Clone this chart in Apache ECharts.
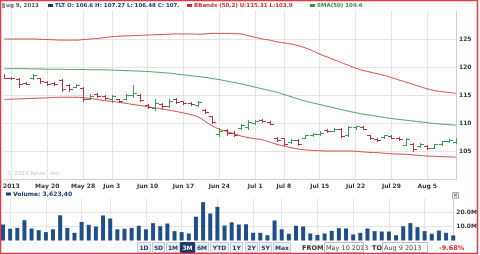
<!DOCTYPE html>
<html><head><meta charset="utf-8">
<script src="https://cdn.jsdelivr.net/npm/echarts@6/dist/echarts.min.js"></script>
<style>html,body{margin:0;padding:0;background:#fff}#c{width:480px;height:255px}</style>
</head><body><div id="c"></div><script>
// ---- data ----
const dates = ['May 10','May 13','May 14','May 15','May 16','May 17','May 20','May 21','May 22','May 23','May 24','May 28','May 29','May 30','May 31',
 'Jun 3','Jun 4','Jun 5','Jun 6','Jun 7','Jun 10','Jun 11','Jun 12','Jun 13','Jun 14','Jun 17','Jun 18','Jun 19','Jun 20','Jun 21','Jun 24','Jun 25','Jun 26','Jun 27','Jun 28',
 'Jul 1','Jul 2','Jul 3','Jul 5','Jul 8','Jul 9','Jul 10','Jul 11','Jul 12','Jul 15','Jul 16','Jul 17','Jul 18','Jul 19','Jul 22','Jul 23','Jul 24','Jul 25','Jul 26','Jul 29','Jul 30','Jul 31',
 'Aug 1','Aug 2','Aug 5','Aug 6','Aug 7','Aug 8','Aug 9'];
const opens  = [118.6,118.1,117.9,117.2,118.0,118.0,117.4,117.2,117.6,116.8,116.5,116.2,114.3,115.1,114.9,114.2,114.2,114.3,115.0,115.0,113.3,112.6,113.4,113.0,114.3,113.9,113.5,113.3,112.4,111.2,108.0,108.7,108.3,109.1,109.2,110.0,110.6,110.2,107.4,107.3,106.6,107.0,107.4,107.8,108.0,108.8,108.6,109.0,107.8,109.2,109.3,107.8,107.2,107.5,107.7,107.4,106.1,106.3,105.9,105.9,105.6,106.2,106.7,106.6];
const highs  = [118.8,118.2,118.0,117.3,118.8,118.1,117.5,117.3,117.9,117.0,117.0,116.4,115.1,115.3,115.05,115.0,114.3,115.2,116.8,115.1,113.4,114.2,113.5,114.3,114.4,114.0,113.8,114.0,112.5,111.3,109.1,109.0,108.5,109.9,110.6,110.6,110.7,110.3,107.5,107.3,107.1,107.2,107.9,108.2,108.5,108.9,109.1,109.1,109.4,109.5,109.4,107.9,107.3,107.9,107.8,107.5,107.4,106.5,106.5,106.0,106.3,106.8,107.1,107.27];
const lows   = [118.0,117.9,116.5,116.9,117.9,117.2,116.8,116.8,115.8,115.8,116.4,113.9,114.2,114.7,114.2,113.8,113.7,114.2,114.6,113.9,112.7,112.3,112.6,112.9,113.6,113.4,113.2,113.0,111.8,110.0,107.65,107.9,107.6,109.0,109.0,109.9,110.2,109.8,106.8,106.0,106.5,106.1,107.3,107.6,107.9,108.4,108.5,107.5,107.7,109.0,108.9,107.2,106.8,107.4,107.3,107.0,106.0,105.0,105.8,105.4,105.5,106.0,106.6,106.48];
const closes = [118.1,118.0,117.0,117.0,118.5,117.5,117.0,116.9,116.0,116.1,116.8,114.2,114.9,114.8,114.4,114.8,113.9,115.0,115.4,114.1,112.9,113.6,113.0,114.0,113.8,113.5,113.4,113.8,111.9,110.2,108.5,108.2,107.8,109.6,110.1,110.4,110.3,109.9,107.0,106.2,107.0,106.3,107.8,108.0,108.3,108.5,109.0,107.7,109.2,109.4,109.0,107.4,106.9,107.8,107.4,107.2,107.2,105.3,106.3,105.5,106.2,106.7,107.0,107.0];
const volumes = [11.4,8.4,9.0,14.5,8.6,7.4,6.0,8.0,18.0,9.0,5.5,13.3,11.2,10.0,17.9,15.7,8.0,8.4,9.0,10.5,8.0,12.4,10.2,12.1,6.7,6.0,5.0,17.0,27.4,19.3,24.0,10.7,13.0,11.4,11.6,5.5,5.5,3.8,14.3,8.0,4.8,10.5,10.0,5.0,4.0,5.0,6.9,8.8,8.6,4.3,5.5,8.6,6.7,6.4,6.4,3.8,10.2,12.4,9.5,6.7,4.8,7.1,5.5,3.62];
const bbUpper = [125.0,125.0,125.0,125.0,125.0,124.95,124.9,124.85,124.8,124.8,124.8,124.9,125.0,125.1,125.25,125.4,125.5,125.55,125.6,125.65,125.7,125.75,125.8,125.85,125.9,125.9,125.9,125.85,125.9,126.0,126.0,126.0,125.95,125.9,125.6,125.3,125.0,124.8,124.5,124.3,124.1,123.8,123.4,122.9,122.3,121.8,121.3,120.8,120.3,119.8,119.4,119.1,118.8,118.5,118.1,117.7,117.3,116.9,116.5,116.1,115.8,115.6,115.45,115.31];
const sma50 = [119.7,119.7,119.7,119.7,119.65,119.65,119.6,119.6,119.6,119.55,119.55,119.55,119.5,119.5,119.5,119.45,119.4,119.35,119.3,119.25,119.2,119.1,119.0,118.9,118.75,118.6,118.45,118.3,118.15,117.95,117.75,117.5,117.25,117.0,116.7,116.4,116.1,115.8,115.5,115.1,114.7,114.3,113.9,113.6,113.3,113.0,112.7,112.4,112.1,111.85,111.6,111.4,111.2,111.0,110.8,110.65,110.5,110.35,110.2,110.05,109.9,109.8,109.7,109.6];
const bbLower = [114.2,114.25,114.3,114.35,114.4,114.45,114.5,114.55,114.6,114.6,114.6,114.5,114.4,114.2,114.0,113.85,113.7,113.5,113.3,113.1,112.9,112.7,112.5,112.3,112.05,111.8,111.5,111.1,110.3,109.5,108.9,108.5,108.1,107.7,107.4,107.2,107.0,106.6,106.2,105.9,105.6,105.35,105.2,105.1,105.05,105.0,105.0,105.0,105.0,104.95,104.85,104.75,104.7,104.6,104.5,104.45,104.4,104.3,104.2,104.1,104.05,104.0,103.95,103.9];
const tickDates = ['May 13','May 20','May 28','Jun 3','Jun 10','Jun 17','Jun 24','Jul 1','Jul 8','Jul 15','Jul 22','Jul 29','Aug 5'];
const tickLabels = ['2013','May 20','May 28','Jun 3','Jun 10','Jun 17','Jun 24','Jul 1','Jul 8','Jul 15','Jul 22','Jul 29','Aug 5'];
const priceTicks = [105,110,115,120,125];
const volumeTicks = [10,20];
const ranges = ['1D','5D','1M','3M','6M','YTD','1Y','2Y','5Y','Max'];

// ---- styles ----
const GREEN = '#3f9a55', RED = '#a8364e', BAND = '#cf4a45', SMA = '#4a9e63', VOL = '#1f4f88';
const FONT = 'DejaVu Sans';
const GRIDC = '#e4e4e4';
const isTick = (i) => tickDates.indexOf(dates[i]) >= 0;

function renderOHLC(params, api) {
  const i = api.value(0);
  const o = api.coord([i, api.value(1)]);
  const h = api.coord([i, api.value(2)]);
  const l = api.coord([i, api.value(3)]);
  const c = api.coord([i, api.value(4)]);
  const x = Math.round(o[0]) + 0.5;
  const col = api.value(4) >= api.value(1) ? GREEN : RED;
  const st = {stroke: col, lineWidth: 1, fill: null};
  const oy = Math.round(o[1]) + 0.5, cy = Math.round(c[1]) + 0.5;
  return {type: 'group', children: [
    {type: 'line', shape: {x1: x, y1: Math.round(h[1]), x2: x, y2: Math.round(l[1]) + 1}, style: st},
    {type: 'line', shape: {x1: x - 3.5, y1: oy, x2: x, y2: oy}, style: st},
    {type: 'line', shape: {x1: x, y1: cy, x2: x + 3.5, y2: cy}, style: st}
  ]};
}

const chart = echarts.init(document.getElementById('c'), null, {renderer: 'canvas'});
const axisLab = {fontFamily: FONT, fontSize: 6, fontWeight: 'bold', color: '#333'};
const HF = 'bold 5.5px ' + FONT;

const graphics = [
  {type: 'rect', shape: {x: 0.5, y: 0.5, width: 477, height: 253}, style: {fill: null, stroke: '#e23a46', lineWidth: 1.5}, z: 100},
  // header
  {type: 'rect', shape: {x: 2, y: 3, width: 3, height: 5}, style: {fill: '#999'}},
  {type: 'text', x: 6, y: 5.5, style: {text: 'ug 9, 2013', font: HF, fill: '#555', textVerticalAlign: 'middle'}},
  {type: 'rect', shape: {x: 48, y: 4, width: 5, height: 3}, style: {fill: '#1d3c6c'}},
  {type: 'text', x: 55, y: 5.5, style: {text: 'TLT O: 106.6 H: 107.27 L: 106.48 C: 107.', font: HF, fill: '#1d3c6c', textVerticalAlign: 'middle'}},
  {type: 'rect', shape: {x: 187, y: 4, width: 5, height: 3}, style: {fill: '#c8312e'}},
  {type: 'text', x: 194, y: 5.5, style: {text: 'BBands (50,2) U:115.31 L:103.9', font: HF, fill: '#c8312e', textVerticalAlign: 'middle'}},
  {type: 'rect', shape: {x: 310, y: 4, width: 5, height: 3}, style: {fill: '#3c8d4b'}},
  {type: 'text', x: 317, y: 5.5, style: {text: 'SMA(50) 109.6', font: HF, fill: '#3c8d4b', textVerticalAlign: 'middle'}},
  // copyright
  {type: 'text', x: 7, y: 174, style: {text: '© 2013 Yahoo! Inc.', font: '5.5px ' + FONT, fill: '#c4c4c4', textVerticalAlign: 'middle'}},
  // volume header
  {type: 'rect', shape: {x: 6, y: 192.5, width: 5, height: 3}, style: {fill: '#1d3c6c'}},
  {type: 'text', x: 13, y: 194, style: {text: 'Volume: 3,623,40', font: 'bold 6px ' + FONT, fill: '#1d3c6c', textVerticalAlign: 'middle'}},
  {type: 'rect', shape: {x: 452.5, y: 192.5, width: 6, height: 6}, style: {fill: '#f2f2f2', stroke: '#aaa', lineWidth: 1}},
  {type: 'text', x: 455.5, y: 195.5, style: {text: '×', font: 'bold 6px ' + FONT, fill: '#555', textAlign: 'center', textVerticalAlign: 'middle'}},
  // FROM / TO
  {type: 'text', x: 302, y: 248, style: {text: 'FROM:', font: 'bold 6.5px ' + FONT, fill: '#333', textVerticalAlign: 'middle'}},
  {type: 'rect', shape: {x: 324.5, y: 242.5, width: 39, height: 10}, style: {fill: '#fff', stroke: '#bbb', lineWidth: 1}},
  {type: 'text', x: 326, y: 248, style: {text: 'May 10 2013', font: '6.5px ' + FONT, fill: '#444', textVerticalAlign: 'middle'}},
  {type: 'text', x: 372, y: 248, style: {text: 'TO:', font: 'bold 6.5px ' + FONT, fill: '#333', textVerticalAlign: 'middle'}},
  {type: 'rect', shape: {x: 382.5, y: 242.5, width: 45, height: 10}, style: {fill: '#fff', stroke: '#bbb', lineWidth: 1}},
  {type: 'text', x: 384, y: 248, style: {text: 'Aug 9 2013', font: '6.5px ' + FONT, fill: '#444', textVerticalAlign: 'middle'}},
  {type: 'text', x: 439, y: 248, style: {text: '-9.68%', font: 'bold 6.5px ' + FONT, fill: '#d0312d', textVerticalAlign: 'middle'}}
];
const btnX = [137, 152, 166, 180, 195, 210, 230, 245, 259, 273];
const btnW = [13, 12, 13, 14, 13, 18, 12, 12, 12, 17];
ranges.forEach((r, k) => {
  const sel = r === '3M';
  graphics.push({type: 'rect', shape: {x: btnX[k] + 0.5, y: 242.5, width: btnW[k], height: 10},
    style: {fill: sel ? '#1d3c6c' : '#eef0f4', stroke: sel ? '#1d3c6c' : '#c9ccd3', lineWidth: 1}});
  graphics.push({type: 'text', x: btnX[k] + 0.5 + btnW[k] / 2, y: 248,
    style: {text: r, font: 'bold 6px ' + FONT, fill: sel ? '#fff' : '#1d3c6c', textAlign: 'center', textVerticalAlign: 'middle'}});
});

chart.setOption({
  animation: false,
  backgroundColor: '#fff',
  grid: [
    {left: 3, right: 24, top: 11, height: 168},
    {left: 3, right: 24, top: 198.5, height: 42}
  ],
  xAxis: [
    {type: 'category', gridIndex: 0, data: dates, boundaryGap: false,
     axisLine: {show: true, lineStyle: {color: '#cfcfcf'}}, axisTick: {show: false},
     axisLabel: Object.assign({interval: (i) => isTick(i), margin: 4,
       formatter: (v) => { const k = tickDates.indexOf(v); return k >= 0 ? tickLabels[k] : ''; }}, axisLab),
     splitLine: {show: true, interval: (i) => isTick(i), lineStyle: {color: GRIDC}}},
    {type: 'category', gridIndex: 1, data: dates, boundaryGap: false,
     axisLine: {show: false}, axisTick: {show: false}, axisLabel: {show: false},
     splitLine: {show: true, interval: (i) => isTick(i), lineStyle: {color: GRIDC}}}
  ],
  yAxis: [
    {type: 'value', gridIndex: 0, position: 'right', min: 100, max: 130, interval: 5,
     axisLine: {show: true, lineStyle: {color: '#cfcfcf'}}, axisTick: {show: false},
     axisLabel: Object.assign({margin: 3, formatter: (v) => priceTicks.indexOf(v) >= 0 ? String(v) : ''}, axisLab),
     splitLine: {show: true, showMinLine: false, showMaxLine: false, lineStyle: {color: GRIDC}}},
    {type: 'value', gridIndex: 1, position: 'right', min: 0, max: 30, interval: 10,
     axisLine: {show: true, lineStyle: {color: '#cfcfcf'}}, axisTick: {show: false},
     axisLabel: Object.assign({margin: 3, formatter: (v) => volumeTicks.indexOf(v) >= 0 ? v.toFixed(1) + 'M' : ''}, axisLab),
     splitLine: {show: true, showMinLine: false, showMaxLine: false, lineStyle: {color: GRIDC}}}
  ],
  series: [
    {type: 'line', xAxisIndex: 0, yAxisIndex: 0, data: bbUpper, smooth: true, showSymbol: false, lineStyle: {color: BAND, width: 1}, z: 2},
    {type: 'line', xAxisIndex: 0, yAxisIndex: 0, data: bbLower, smooth: true, showSymbol: false, lineStyle: {color: BAND, width: 1}, z: 2},
    {type: 'line', xAxisIndex: 0, yAxisIndex: 0, data: sma50, smooth: true, showSymbol: false, lineStyle: {color: SMA, width: 1}, z: 2},
    {type: 'custom', xAxisIndex: 0, yAxisIndex: 0, renderItem: renderOHLC, clip: true,
     encode: {x: 0, y: [1, 2, 3, 4]},
     data: dates.map((d, i) => [i, opens[i], highs[i], lows[i], closes[i]]), z: 3},
    {type: 'bar', xAxisIndex: 1, yAxisIndex: 1, data: volumes, barWidth: 4, itemStyle: {color: VOL}}
  ],
  graphic: graphics
});
</script></body></html>
